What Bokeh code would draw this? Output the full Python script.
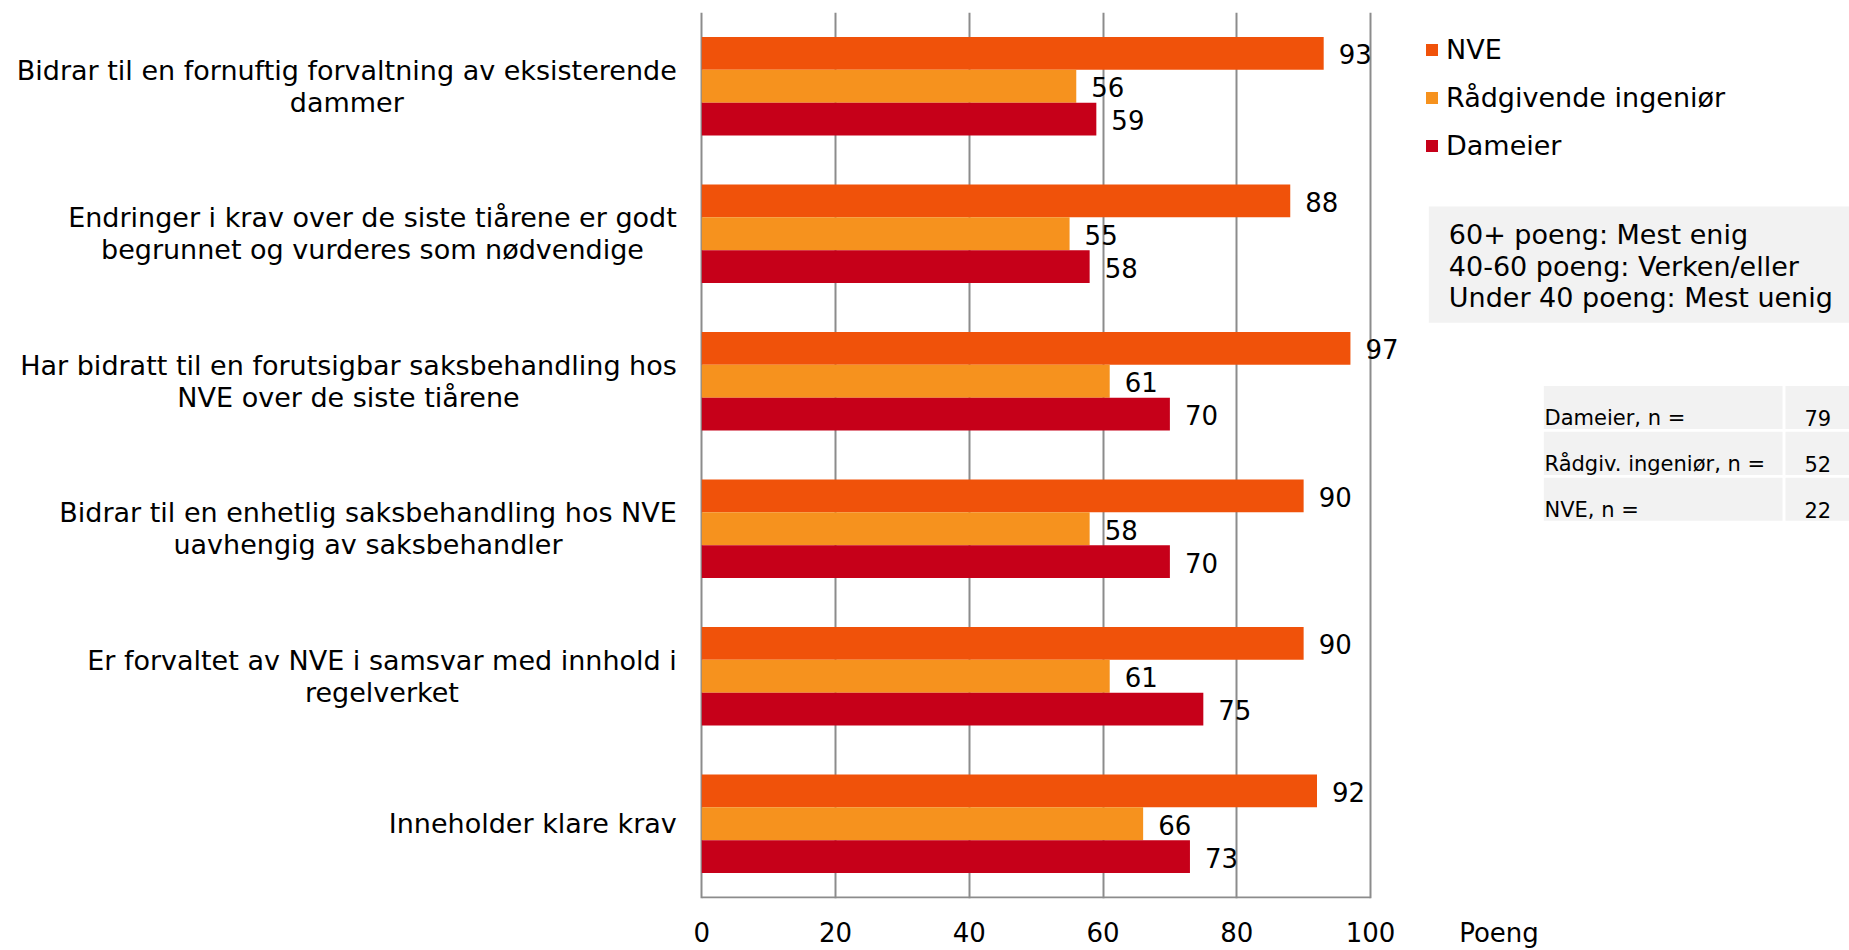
from bokeh.plotting import figure
from bokeh.models import (Range1d, FixedTicker, LinearAxis, Grid, Legend, LegendItem,
                          ColumnDataSource, CustomJSTickFormatter)
from bokeh.core.properties import value
from bokeh.embed import file_html
from bokeh.resources import INLINE

# ---------------- data ----------------
categories = [
    "Bidrar til en fornuftig forvaltning av eksisterende\ndammer",
    "Endringer i krav over de siste tiårene er godt\nbegrunnet og vurderes som nødvendige",
    "Har bidratt til en forutsigbar saksbehandling hos\nNVE over de siste tiårene",
    "Bidrar til en enhetlig saksbehandling hos NVE\nuavhengig av saksbehandler",
    "Er forvaltet av NVE i samsvar med innhold i\nregelverket",
    "Inneholder klare krav",
]
series_names = ["NVE", "Rådgivende ingeniør", "Dameier"]
nve = [93, 88, 97, 90, 90, 92]
radgivende = [56, 55, 61, 58, 61, 66]
dameier = [59, 58, 70, 70, 75, 73]
x_ticks = [0, 20, 40, 60, 80, 100]
x_unit_label = "Poeng"
info_lines = ["60+ poeng: Mest enig", "40-60 poeng: Verken/eller", "Under 40 poeng: Mest uenig"]
n_labels = ["Dameier, n =", "Rådgiv. ingeniør, n =", "NVE, n ="]
n_values = [79, 52, 22]

# ---------------- styles / layout ----------------
FONT = "DejaVu Sans"
COLORS = ["#F0520A", "#F6921E", "#C60019"]
GRID_COLOR = "#8c8c8c"
BOX_COLOR = "#f2f2f2"
W, H = 1849, 950
TOP, BOTTOM = 12, 49
PX0, PX100 = 701.3, 1370.0          # canvas x of 0 and 100
PY_TOP, PY_ZERO = 12.0, 900.0       # canvas y of category-axis top and of the value axis
sx = (PX100 - PX0) / 100.0
ncat = len(categories)
sy = (PY_ZERO - PY_TOP) / ncat


def X(px):
    return (px - PX0) / sx


def Y(py):
    return ncat - (py - PY_TOP) / sy


p = figure(width=W, height=H, x_range=Range1d(X(0), X(W)),
           y_range=Range1d(Y(H - BOTTOM), Y(TOP)),
           output_backend="svg", toolbar_location=None, x_axis_type=None, y_axis_type=None,
           min_border_left=0, min_border_right=0, min_border_top=TOP, min_border_bottom=BOTTOM)
p.outline_line_color = None
p.background_fill_color = "white"
p.border_fill_color = "white"

grid = Grid(dimension=0, ticker=FixedTicker(ticks=x_ticks), grid_line_color=GRID_COLOR,
            grid_line_width=2)
p.add_layout(grid)

unit_x = X(1498.5)
xaxis = LinearAxis(ticker=FixedTicker(ticks=x_ticks + [unit_x]),
                   formatter=CustomJSTickFormatter(args=dict(lbl=x_unit_label, mx=x_ticks[-1]),
                                                   code="return tick > mx ? lbl : tick.toFixed(0)"),
                   axis_line_color=None,
                   major_tick_line_color=None, minor_tick_line_color=None,
                   major_tick_out=0, major_tick_in=0, major_label_standoff=19,
                   major_label_text_font=FONT, major_label_text_font_size="26px",
                   major_label_text_color="black")
p.add_layout(xaxis, "below")

# value-axis baseline
p.segment(x0=[x_ticks[0]], x1=[x_ticks[-1]], y0=[0], y1=[0], line_color=GRID_COLOR, line_width=2)

centers = [ncat - 0.5 - i for i in range(ncat)]
bh = 0.2225
offsets = [bh, 0.0, -bh]
renderers = []
for vals, off, col in zip([nve, radgivende, dameier], offsets, COLORS):
    src = ColumnDataSource(dict(y=[c + off for c in centers], v=vals, t=[str(v) for v in vals]))
    r = p.hbar(y="y", right="v", left=0, height=bh, source=src, fill_color=col, line_color=None)
    renderers.append(r)
    p.text(x="v", y="y", text="t", source=src, x_offset=15, y_offset=1,
           text_baseline="middle", text_align="left", text_font=value(FONT),
           text_font_size="26px", text_color="black")

p.text(x=[0] * ncat, y=centers, text=categories, x_offset=-25,
       anchor=value("center_right"), text_align="center", text_baseline="middle",
       text_font=value(FONT), text_font_size="27px", text_color="black", text_line_height=1.03)

legend = Legend(items=[LegendItem(label=n, renderers=[r]) for n, r in zip(series_names, renderers)],
                location=(1424, 737), padding=0, margin=0, spacing=17,
                glyph_width=15, glyph_height=15, label_standoff=7, label_height=30,
                label_text_font=FONT, label_text_font_size="27px", label_text_color="black",
                border_line_color=None, background_fill_alpha=0)
p.add_layout(legend)

# info box
p.quad(left=[X(1428.3)], right=[X(1849)], top=[Y(206.7)], bottom=[Y(323.3)],
       fill_color=BOX_COLOR, line_color=None)
p.text(x=[X(1448.3)] * 3, y=[Y(235), Y(266.7), Y(298.3)], text=info_lines,
       text_baseline="middle", text_align="left", text_font=value(FONT),
       text_font_size="27px", text_color="black")

# n table
row_tops = [386.7, 432.7, 478.7]
row_h = 43.3
p.quad(left=[X(1543.3)] * 3, right=[X(1782)] * 3, top=[Y(t) for t in row_tops],
       bottom=[Y(t + row_h) for t in row_tops], fill_color=BOX_COLOR, line_color=None)
p.quad(left=[X(1785)] * 3, right=[X(1849)] * 3, top=[Y(t) for t in row_tops],
       bottom=[Y(t + row_h) for t in row_tops], fill_color=BOX_COLOR, line_color=None)
p.text(x=[X(1544)] * 3, y=[Y(t + 32.5) for t in row_tops], text=n_labels,
       text_baseline="middle", text_align="left", text_font=value(FONT),
       text_font_size="21px", text_color="black")
p.text(x=[X(1830.7)] * 3, y=[Y(t + 32.5) for t in row_tops], text=[str(v) for v in n_values],
       text_baseline="middle", text_align="right", text_font=value(FONT),
       text_font_size="21px", text_color="black")

open("out.html", "w").write(file_html(p, INLINE))
